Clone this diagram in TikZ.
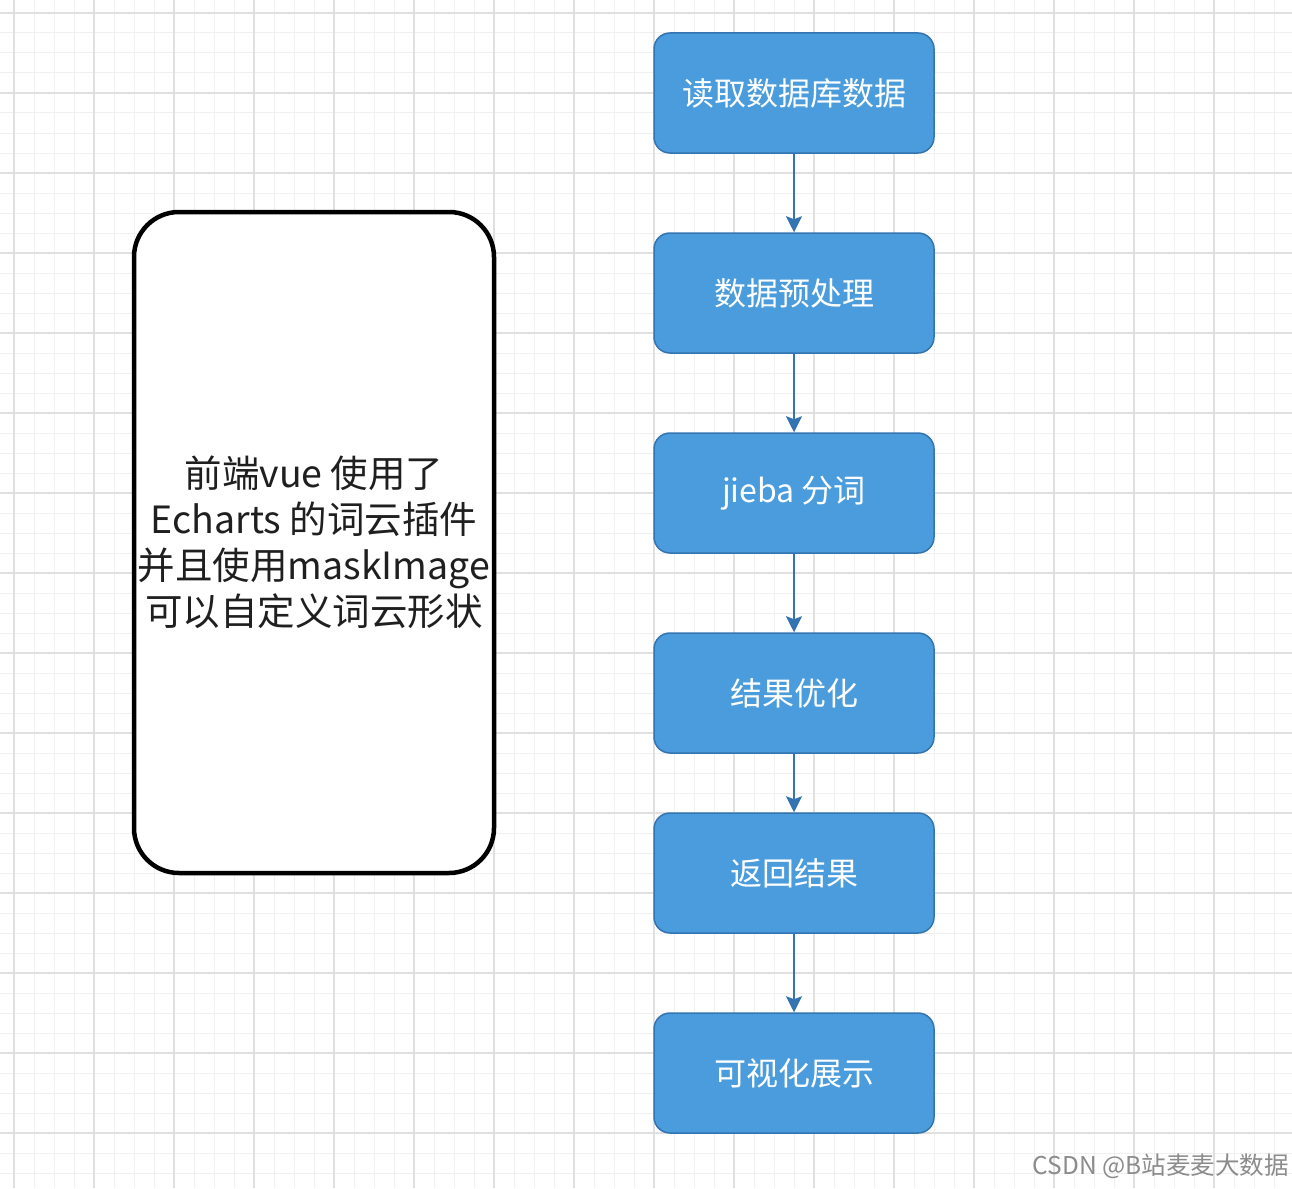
\documentclass[tikz,border=0pt]{standalone}
\usepackage{fontspec}
\setmainfont{Noto Sans CJK SC}
\usetikzlibrary{arrows.meta}
\definecolor{boxfill}{RGB}{74,156,220}
\definecolor{boxline}{RGB}{52,116,176}
\definecolor{minorc}{RGB}{240,240,240}
\definecolor{majorc}{RGB}{224,224,224}
\tikzset{
  minorline/.style={draw=minorc,line width=1pt},
  majorline/.style={draw=majorc,line width=1.2pt},
  stepbox/.style={draw=boxline,fill=boxfill,line width=1.5pt,rounded corners=16pt,
    minimum width=280pt,minimum height=120pt,inner sep=0pt,text=white,
    font=\fontsize{32}{36}\selectfont},
  notebox/.style={draw=black,line width=4.5pt,rounded corners=45pt,fill=white,
    minimum width=360pt,minimum height=661pt,inner sep=0pt,align=center,
    text=black!88,font=\fontsize{37.5}{46}\selectfont},
  flow/.style={draw=boxline,line width=2pt,-{Stealth[length=16pt,width=16pt,inset=3pt]}},
}
\begin{document}
\begin{tikzpicture}[x={(1pt,0)},y={(0,-1pt)}]
\useasboundingbox (0,0) rectangle (1292,1188);
\fill[white] (0,0) rectangle (1292,1188);
\foreach \x in {-6,14,...,1294} {\draw[minorline] (\x,0) -- (\x,1188);}
\foreach \y in {-7,13,...,1193} {\draw[minorline] (0,\y) -- (1292,\y);}
\foreach \x in {14,94,...,1294} {\draw[majorline] (\x,0) -- (\x,1188);}
\foreach \y in {13,93,...,1193} {\draw[majorline] (0,\y) -- (1292,\y);}

\node[notebox] (note) at (314,542.5) {前端vue 使用了\\Echarts 的词云插件\\并且使用maskImage\\可以自定义词云形状};

\node[stepbox] (s1) at (794,93) {读取数据库数据};
\node[stepbox] (s2) at (794,293) {数据预处理};
\node[stepbox] (s3) at (794,493) {jieba 分词};
\node[stepbox] (s4) at (794,693) {结果优化};
\node[stepbox] (s5) at (794,873) {返回结果};
\node[stepbox] (s6) at (794,1073) {可视化展示};

\draw[flow] (s1) -- (s2);
\draw[flow] (s2) -- (s3);
\draw[flow] (s3) -- (s4);
\draw[flow] (s4) -- (s5);
\draw[flow] (s5) -- (s6);

\node[anchor=east,text=black!45,font=\fontsize{24.5}{28}\selectfont,inner sep=0pt] (wm) at (1289,1166) {CSDN @B站麦麦大数据};
\end{tikzpicture}
\end{document}
